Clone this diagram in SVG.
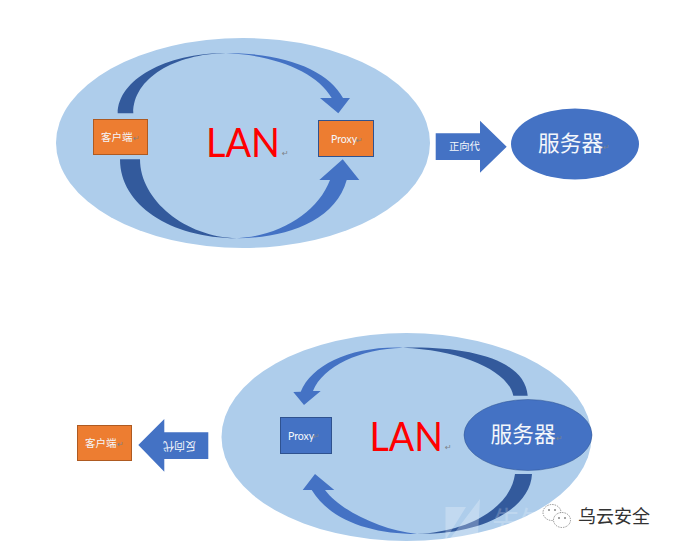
<svg xmlns="http://www.w3.org/2000/svg" width="673" height="547" viewBox="0 0 673 547">
<style>
text{font-family:"Noto Sans CJK SC","Liberation Sans",sans-serif}
.zone{fill:#aecdeb}
.dark{fill:#335a9c}
.light{fill:#4472c4}
.org{fill:#ed7d31;stroke:#ae5a21;stroke-width:1}
.blu{fill:#4472c4;stroke:#2f528f;stroke-width:1}
.w{fill:#f4f7fb}
.lan{fill:#ff0000;font-family:Lato,"Liberation Sans",sans-serif;font-size:41px}
.ret{fill:#7d8288;font-family:"DejaVu Sans",sans-serif;font-size:8px}
.px{font-family:Lato,"Liberation Sans",sans-serif;font-size:10.500px}
</style>
<rect width="673" height="547" fill="#ffffff"/>
<g id="lan-top"><ellipse class="zone" cx="243" cy="143" rx="187" ry="105"/></g>
<g id="lan-bottom"><ellipse class="zone" cx="406.500" cy="437" rx="185" ry="104"/></g>
<g id="connectors">
<path class="dark" d="M117.700,113.300 C118,80 165,53 226,53 C175,54 133,78 133.300,113.300 Z"/>
<path class="light" d="M226,53 C285,53 328,70 343,98 L350,98 L338.300,113.300 L320,98 L331.700,98 C317,72 275,55 226,53 Z"/>
<path class="dark" d="M120,159.300 L140,159.300 C140,200 185,237 237,238.300 C170,238 120,205 120,159.300 Z"/>
<path class="light" d="M237,238.300 C285,238 335,222 346.700,180 L359.300,180 L342.700,159.300 L319.300,180 L330,180 C318,212 280,236 237,238.300 Z"/>
<path class="dark" d="M527.700,395.700 L513.300,395.700 C508,370 460,350 403,347.700 C470,346 525,360 527.700,395.700 Z"/>
<path class="light" d="M403,347.700 C360,349 323,366 313,391 L320.700,391 L304,405 L293.300,392 L300.700,391.700 C312,365 350,346 403,347.700 Z"/>
<path class="dark" d="M515,474 L532,474 C530,510 480,535 417,534 C465,532 510,510 515,474 Z"/>
<path class="light" d="M417,534 C370,534 330,520 311.700,490 L302.700,490 L315,474 L334.300,490 L325,490 C340,510 380,530 417,534 Z"/>
</g>
<g id="client-top">
<rect class="org" x="93.500" y="119.500" width="54" height="35"/>
<text class="w" x="101" y="141" font-size="10.500">客户端</text>
<text class="ret" x="133" y="141">↵</text>
</g>
<g id="proxy-top">
<rect class="org" x="318.500" y="120.500" width="55" height="36" style="stroke:#2f528f"/>
<text class="w px" x="331" y="143">Proxy</text>
<text class="ret" x="356" y="143">↵</text>
</g>
<g id="lan-label-top">
<text class="lan" x="206" y="157" textLength="74" lengthAdjust="spacingAndGlyphs">LAN</text>
<text class="ret" x="282" y="156">↵</text>
</g>
<g id="forward-arrow">
<polygon class="light" points="435.700,133.300 480,133.300 480,120.700 506.700,146.700 480,172.700 480,160 435.700,160"/>
<text class="w" x="449" y="150" font-size="10.300">正向代</text>
</g>
<g id="server-top">
<ellipse class="light" cx="575" cy="144" rx="64" ry="35.500"/>
<text class="w" x="538" y="151" font-size="21.700">服务器</text>
<text class="ret" x="603" y="150">↵</text>
</g>
<g id="proxy-bottom">
<rect class="blu" x="280.500" y="417.500" width="51" height="36"/>
<text class="w px" x="288" y="440">Proxy</text>
<text class="ret" x="313" y="439">↵</text>
</g>
<g id="lan-label-bottom">
<text class="lan" x="369.500" y="451" textLength="73.500" lengthAdjust="spacingAndGlyphs">LAN</text>
<text class="ret" x="445" y="450">↵</text>
</g>
<g id="server-bottom">
<ellipse class="light" cx="528" cy="435" rx="64" ry="35.500" style="stroke:#2f528f;stroke-width:.5"/>
<text class="w" x="490.500" y="442" font-size="21.700">服务器</text>
<text class="ret" x="556" y="441">↵</text>
</g>
<g id="client-bottom">
<rect class="org" x="77.500" y="425.500" width="54" height="35"/>
<text class="w" x="85" y="447" font-size="10.500">客户端</text>
<text class="ret" x="117" y="447">↵</text>
</g>
<g id="reverse-arrow">
<polygon class="light" points="138.300,445 164.300,419 164.300,432.300 208.300,432.300 208.300,459 164.300,459 164.300,471.700"/>
<text class="w" transform="rotate(180 179.500 445.500)" x="179.500" y="449" text-anchor="middle" font-size="11">反向代</text>
</g>
<g id="watermark">
<polygon points="445.500,507 466,507 445.500,540" fill="#ffffff" opacity=".25"/>
<polygon points="449,540 480,499 478,534" fill="#ffffff" opacity=".25"/>
<text x="492" y="533" font-size="29" fill="#ffffff" opacity=".2">先知社区</text>
<ellipse cx="552" cy="512.500" rx="9" ry="8" fill="#ffffff" stroke="#555" stroke-width=".6" stroke-dasharray="1.500 1"/>
<ellipse cx="562" cy="520" rx="8.500" ry="7.500" fill="#ffffff" stroke="#555" stroke-width=".6" stroke-dasharray="1.500 1"/>
<circle cx="549" cy="510" r=".8" fill="#333"/><circle cx="555" cy="510" r=".8" fill="#333"/>
<circle cx="559" cy="518" r=".8" fill="#333"/><circle cx="565" cy="518" r=".8" fill="#333"/>
<text x="578" y="523" font-size="18" fill="#333333" stroke="#ffffff" stroke-width=".4" paint-order="stroke">乌云安全</text>
</g>
</svg>
